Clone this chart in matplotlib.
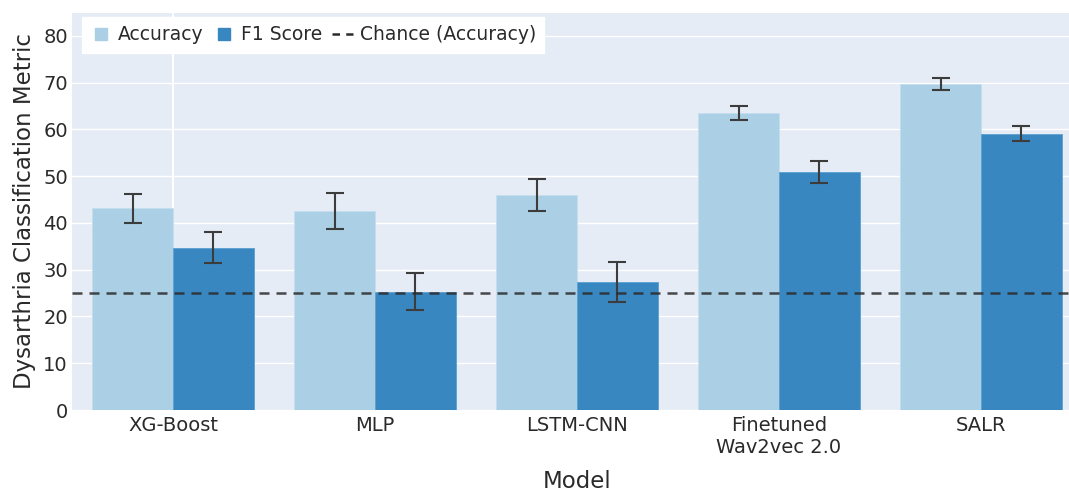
import numpy as np
import matplotlib.pyplot as plt
from matplotlib.lines import Line2D

plt.rcParams['font.family'] = ['DejaVu Sans']

models = ["XG-Boost", "MLP", "LSTM-CNN", "Finetuned\nWav2vec 2.0", "SALR"]
accuracy = [43.2, 42.6, 45.9, 63.5, 69.7]
accuracy_err = [3.1, 3.8, 3.4, 1.5, 1.3]
f1_score = [34.7, 25.3, 27.3, 50.9, 59.1]
f1_err = [3.3, 4.0, 4.3, 2.4, 1.6]
chance = 25.0

col_acc = "#abcfe5"
col_f1 = "#3987c0"
err_col = "#3c3c3c"

fig = plt.figure(figsize=(10.69, 4.95), dpi=100)
ax = fig.add_axes([0.0674, 0.1717, 0.9448, 0.802])
ax.set_facecolor("#e5ecf6")

x = np.arange(len(models))
w = 0.4
ekw = dict(ecolor=err_col, elinewidth=1.5, capsize=6.5, capthick=1.5)
ax.bar(x - w / 2, accuracy, w, color=col_acc, edgecolor="#c4def0", linewidth=0.6,
       yerr=accuracy_err, error_kw=ekw, zorder=3)
ax.bar(x + w / 2, f1_score, w, color=col_f1, edgecolor="#5a9fd0", linewidth=0.6,
       yerr=f1_err, error_kw=ekw, zorder=3)
ax.axhline(chance, color="#2b2b2b", alpha=0.85, linewidth=1.8, dashes=(4, 2.8), zorder=4)

# plotly-style zerolines / grid
ax.axvline(0, color="white", linewidth=1.5, zorder=1)
ax.set_ylim(0, 84.9)
ax.set_xlim(-0.5, 4.5)
ax.set_yticks(np.arange(0, 81, 10))
ax.yaxis.grid(True, color="white", linewidth=1.0, zorder=0)
ax.set_axisbelow(True)
for s in ax.spines.values():
    s.set_visible(False)
ax.tick_params(axis="both", length=0, labelsize=14, colors="#2a2a2a")
ax.tick_params(axis="y", pad=3)
ax.tick_params(axis="x", pad=4)
ax.set_xticks(x)
ax.set_xticklabels(models)

ax.set_ylabel("Dysarthria Classification Metric", fontsize=16.5, color="#2a2a2a", labelpad=5)
ax.set_xlabel("Model", fontsize=16.5, color="#2a2a2a", labelpad=10)

handles = [
    Line2D([], [], marker="s", linestyle="none", markersize=8, color=col_acc),
    Line2D([], [], marker="s", linestyle="none", markersize=8, color=col_f1),
    Line2D([], [], color="#2b2b2b", linewidth=1.8, dashes=(3, 2.5)),
]
leg = ax.legend(handles, ["Accuracy", "F1 Score", "Chance (Accuracy)"], ncol=3,
                loc="upper left", bbox_to_anchor=(0.0099, 0.99), frameon=True,
                fancybox=False, framealpha=1, edgecolor="white", fontsize=13.5,
                handlelength=1.1, handletextpad=0.35, columnspacing=0.55,
                borderpad=0.45, borderaxespad=0)
for t in leg.get_texts():
    t.set_color("#2a2a2a")

fig.savefig("out.png", dpi=100, facecolor="white")
